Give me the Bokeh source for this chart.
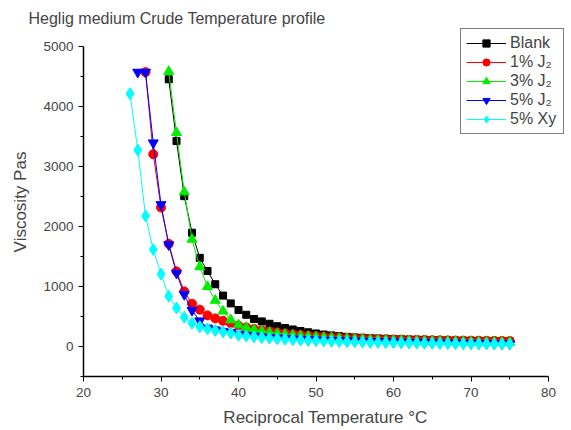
from bokeh.plotting import figure
from bokeh.models import Range1d, Legend, LegendItem, FixedTicker
from bokeh.embed import file_html
from bokeh.resources import INLINE

# Data
x_blank = list(range(31, 76))
y_blank = [4460, 3430, 2510, 1900, 1480, 1260, 1040, 850, 720, 610, 530, 460, 420, 380, 340,
           310, 285, 260, 238, 218, 200, 186, 173, 162, 153, 146, 140, 135, 130, 126,
           122, 118, 115, 112, 109, 106, 104, 102, 100, 98, 96, 94, 92, 90, 88]

x_j1 = list(range(28, 76))
y_j1 = [4580, 3210, 2320, 1715, 1255, 920, 715, 615, 520, 470, 430, 390, 350, 320, 295,
        272, 252, 235, 220, 206, 194, 183, 173, 164, 156, 149, 143, 138, 133, 129,
        125, 121, 118, 115, 112, 110, 108, 106, 104, 102, 100, 99, 98, 97, 96, 95, 94, 93]

x_j3 = list(range(31, 76))
y_j3 = [4590, 3570, 2580, 1790, 1330, 1000, 770, 590, 445, 360, 315, 282, 256, 234, 215,
        200, 187, 176, 166, 157, 149, 142, 135, 129, 123, 118, 113, 109, 105, 101,
        98, 95, 92, 89, 87, 85, 83, 81, 79, 77, 75, 74, 73, 71, 70]

x_j5 = list(range(27, 76))
y_j5 = [4580, 4580, 3400, 2370, 1700, 1225, 870, 605, 430, 310, 280, 255, 235, 205, 188,
        174, 162, 152, 143, 135, 128, 122, 116, 111, 106, 102, 98, 94, 91, 88,
        85, 82, 79, 76, 73, 70, 67, 64, 61, 59, 57, 55, 53, 51, 49, 47, 45, 43, 41]

x_xy = list(range(26, 76))
y_xy = [4220, 3280, 2180, 1620, 1210, 840, 645, 490, 390, 330, 295, 268, 245, 225, 190,
        175, 162, 150, 140, 130, 122, 115, 108, 102, 97, 92, 88, 84, 80, 77,
        74, 71, 68, 66, 64, 62, 60, 58, 56, 54, 52, 51, 50, 48, 47, 46, 45, 44, 43, 42]

x_ticks = [20, 30, 40, 50, 60, 70, 80]
x_minor = [25, 35, 45, 55, 65, 75]
y_ticks = [0, 1000, 2000, 3000, 4000, 5000]
y_minor = [-500, 500, 1500, 2500, 3500, 4500]

FONT = "Liberation Sans"

# frame: x 83..567 px, y 27..376 px; axes drawn only over 20..80 and -500..5000
p = figure(width=571, height=430, output_backend="svg", toolbar_location=None,
           x_range=Range1d(20, 82.45), y_range=Range1d(-500, 5325),
           min_border_left=83, min_border_right=4, min_border_top=27, min_border_bottom=54)
p.outline_line_color = None
p.grid.visible = False

p.title.text = "Heglig medium Crude Temperature profile"
p.title.text_font = FONT
p.title.text_font_size = "16px"
p.title.text_font_style = "normal"
p.title.align = "left"
p.title.offset = -55
p.title.standoff = 2

for ax in (p.xaxis[0], p.yaxis[0]):
    ax.axis_line_color = "black"
    ax.axis_line_width = 1.5
    ax.major_tick_line_color = "black"
    ax.minor_tick_line_color = "black"
    ax.major_tick_out = 5
    ax.major_tick_in = 0
    ax.minor_tick_out = 3
    ax.minor_tick_in = 0
    ax.major_label_text_font = FONT
    ax.major_label_text_font_size = "13.5px"
    ax.axis_label_text_font = FONT
    ax.axis_label_text_font_size = "17px"
    ax.axis_label_text_font_style = "normal"

p.xaxis.bounds = (x_ticks[0], x_ticks[-1])
p.yaxis.bounds = (y_minor[0], y_ticks[-1])
p.xaxis.ticker = FixedTicker(ticks=x_ticks, minor_ticks=x_minor)
p.yaxis.ticker = FixedTicker(ticks=y_ticks, minor_ticks=y_minor)
p.xaxis.axis_label = "Reciprocal Temperature \u00b0C"
p.yaxis.axis_label = "Viscosity Pas"
p.xaxis.major_label_standoff = 6
p.xaxis.axis_label_standoff = 8
p.yaxis.axis_label_standoff = 10

items = []
l = p.line(x_blank, y_blank, color="black", line_width=1)
m = p.scatter(x_blank, y_blank, marker="square", size=7, color="black")
items.append(LegendItem(label="Blank", renderers=[l, m]))

l = p.line(x_j1, y_j1, color="red", line_width=1)
m = p.scatter(x_j1, y_j1, marker="circle", size=9, color="red")
items.append(LegendItem(label="1% J\u2082", renderers=[l, m]))

l = p.line(x_j3, y_j3, color="#00ee00", line_width=1)
m = p.scatter(x_j3, y_j3, marker="triangle", size=10, color="#00ee00")
items.append(LegendItem(label="3% J\u2082", renderers=[l, m]))

l = p.line(x_j5, y_j5, color="blue", line_width=1)
m = p.scatter(x_j5, y_j5, marker="inverted_triangle", size=10, color="blue")
items.append(LegendItem(label="5% J\u2082", renderers=[l, m]))

l = p.line(x_xy, y_xy, color="cyan", line_width=1)
m = p.scatter(x_xy, y_xy, marker="diamond", size=12, color="cyan")
items.append(LegendItem(label="5% Xy", renderers=[l, m]))

legend = Legend(items=items, location=(377, 242))
legend.border_line_color = "black"
legend.border_line_width = 1.5
legend.label_text_font = FONT
legend.label_text_font_size = "16px"
legend.glyph_width = 40
legend.glyph_height = 18
legend.label_height = 18
legend.label_width = 48
legend.spacing = 1
legend.padding = 5
legend.margin = 0
legend.label_standoff = 4
legend.background_fill_alpha = 1
p.add_layout(legend, "center")

open("out.html", "w").write(file_html(p, INLINE))
